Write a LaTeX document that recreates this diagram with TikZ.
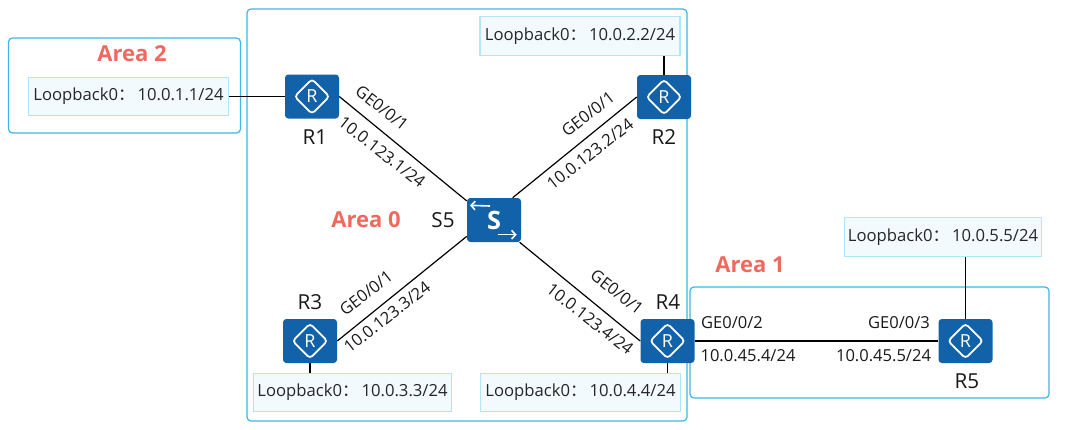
\documentclass[tikz,border=0pt]{standalone}
\usepackage{fontspec}
\usetikzlibrary{arrows.meta}
\setmainfont{Open Sans}
\newfontfamily\cjkfont{Noto Sans CJK SC}
\newcommand{\lbtext}[1]{Loopback0{\cjkfont ：}\,#1}
\definecolor{areablue}{HTML}{3DB5E6}
\definecolor{lbfill}{HTML}{F2FAFE}
\definecolor{lbline}{HTML}{B3E5FA}
\definecolor{devblue}{HTML}{1262A9}
\definecolor{areared}{HTML}{F0695F}
\tikzset{
	area/.style={draw=areablue,line width=0.9pt,rounded corners=3pt,inner sep=0pt},
	loopback/.style={draw=lbline,fill=lbfill,line width=0.9pt,minimum width=150pt,minimum height=29pt,inner sep=0pt,font=\fontsize{12.5}{14}\selectfont,text=black!85},
	router/.style={fill=devblue,rounded corners=2.5pt,minimum width=40.5pt,minimum height=33pt,inner sep=0pt,text=white,font=\fontsize{13.5}{15}\selectfont,
		path picture={\draw [white,line width=1.3pt]
			([xshift=-13pt]path picture bounding box.center) -- ([yshift=13pt]path picture bounding box.center)
			-- ([xshift=13pt]path picture bounding box.center) -- ([yshift=-13pt]path picture bounding box.center) -- cycle;}},
	switch/.style={fill=devblue,rounded corners=2.5pt,minimum width=40.5pt,minimum height=33pt,inner sep=0pt,text=white,font=\fontsize{19}{21}\bfseries\selectfont,
		path picture={\draw [white,line width=1.2pt,-{Straight Barb[length=3pt,width=6.5pt]}]
			([xshift=-3pt,yshift=10.5pt]path picture bounding box.center) -- ([xshift=-18pt,yshift=11pt]path picture bounding box.center);
			\draw [white,line width=1.2pt,-{Straight Barb[length=3pt,width=6.5pt]}]
			([xshift=3pt,yshift=-11pt]path picture bounding box.center) -- ([xshift=17pt,yshift=-11pt]path picture bounding box.center);}},
	areaname/.style={text=areared,font=\fontsize{16.5}{19}\bfseries\selectfont,inner sep=0pt},
	devname/.style={font=\fontsize{15.5}{18}\selectfont,inner sep=0pt,text=black!90},
	portname/.style={font=\fontsize{12.4}{14}\selectfont,inner sep=0pt,text=black!90},
	link/.style={draw=black,line width=0.9pt}
}
\begin{document}
\begin{tikzpicture}[x=0.75pt,y=-0.75pt]
	\useasboundingbox (0,0) rectangle (1072,429);
	\node [area,minimum width=330pt,minimum height=309pt] (area0) at (467,215) {};
	\node [area,minimum width=174pt,minimum height=71.25pt] (area2) at (124.5,85.5) {};
	\node [area,minimum width=269.25pt,minimum height=83.25pt] (area1) at (869.5,342.5) {};
	\node [areaname] (name0) at (366,220) {Area 0};
	\node [areaname] (name1) at (750,265) {Area 1};
	\node [areaname] (name2) at (132,54) {Area 2};
	\node [loopback] (lb1) at (128.5,96.5) {\lbtext{10.0.1.1/24}};
	\node [loopback] (lb2) at (580,36) {\lbtext{10.0.2.2/24}};
	\node [loopback,minimum width=148pt] (lb3) at (352.5,392.5) {\lbtext{10.0.3.3/24}};
	\node [loopback] (lb4) at (580.5,392.5) {\lbtext{10.0.4.4/24}};
	\node [loopback,minimum width=148pt] (lb5) at (943,237) {\lbtext{10.0.5.5/24}};
	\node [router] (r1) at (312,96.5) {R};
	\node [router] (r2) at (664,97) {R};
	\node [router] (r3) at (310,341) {R};
	\node [router] (r4) at (667.5,341) {R};
	\node [router] (r5) at (965.5,341) {R};
	\node [switch] (s5) at (494,220) {S};
	\node [devname] (r1name) at (315,137) {R1};
	\node [devname] (r2name) at (664,137) {R2};
	\node [devname] (r3name) at (310,302) {R3};
	\node [devname] (r4name) at (668,302) {R4};
	\node [devname] (r5name) at (967,381) {R5};
	\node [devname] (s5name) at (443,220) {S5};
	\draw [link] (lb1) -- (r1);
	\draw [link] (lb2.south -| r2.north) -- (r2.north);
	\draw [link] (lb3.north -| r3.south) -- (r3.south);
	\draw [link] (lb4.north -| r4.south) -- (r4.south);
	\draw [link] (lb5.south -| r5.north) -- (r5.north);
	\draw [link] (r1.east) -- (s5.145);
	\draw [link] (r2.west) -- (s5.50);
	\draw [link] (r3.east) -- (s5.211);
	\draw [link] (r4.west) -- (s5.-41);
	\draw [link] (r4.east) -- (r5.west);
	\node [portname,rotate=-38] (p1a) at (382,108) {GE0/0/1};
	\node [portname,rotate=-38] (p1b) at (382,152) {10.0.123.1/24};
	\node [portname,rotate=38] (p2a) at (588,114) {GE0/0/1};
	\node [portname,rotate=38] (p2b) at (590,154) {10.0.123.2/24};
	\node [portname,rotate=38] (p3a) at (366,293) {GE0/0/1};
	\node [portname,rotate=38] (p3b) at (387,317) {10.0.123.3/24};
	\node [portname,rotate=-38] (p4a) at (617,292) {GE0/0/1};
	\node [portname,rotate=-38] (p4b) at (590,319) {10.0.123.4/24};
	\node [portname] (p5a) at (732,323) {GE0/0/2};
	\node [portname] (p5b) at (748,356) {10.0.45.4/24};
	\node [portname] (p6a) at (899,323) {GE0/0/3};
	\node [portname] (p6b) at (883.5,356) {10.0.45.5/24};
\end{tikzpicture}
\end{document}
